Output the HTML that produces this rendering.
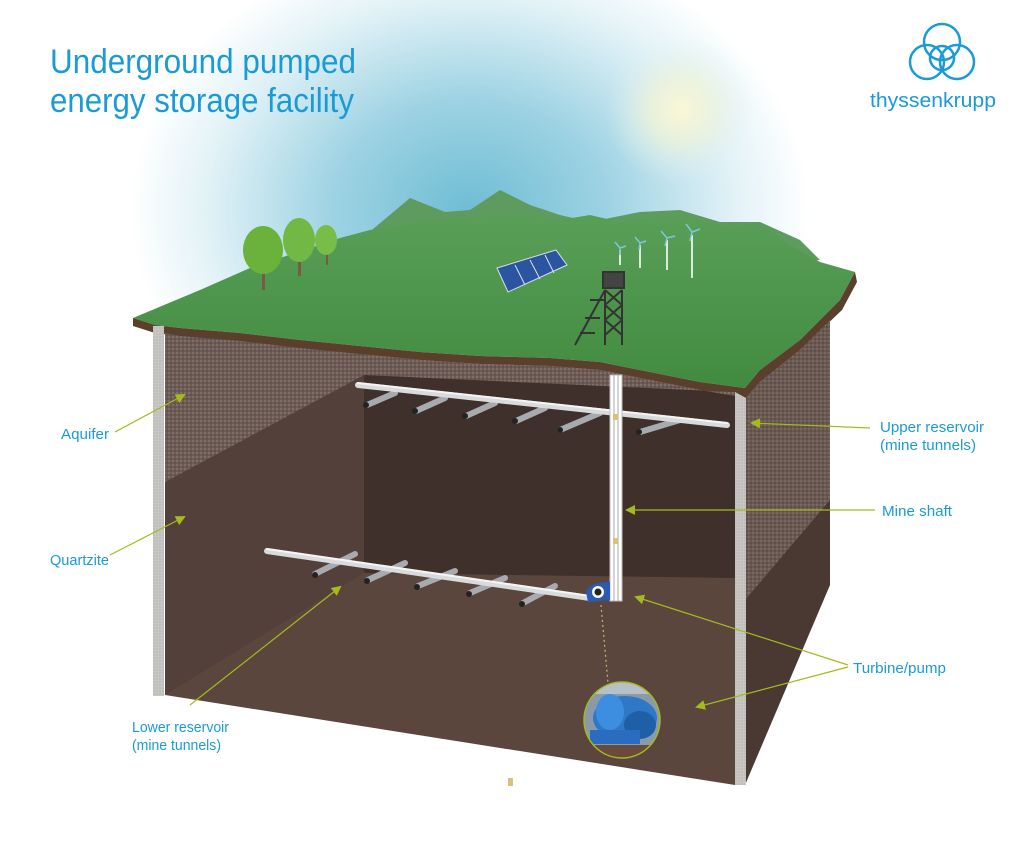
<!DOCTYPE html>
<html><head><meta charset="utf-8"><style>
html,body{margin:0;padding:0;background:#fff;width:1024px;height:847px;overflow:hidden}
svg{display:block}
text{font-family:"Liberation Sans",sans-serif}
</style></head><body>
<svg width="1024" height="847" viewBox="0 0 1024 847" xmlns="http://www.w3.org/2000/svg">
<defs>
<radialGradient id="sky" cx="470" cy="210" r="340" gradientUnits="userSpaceOnUse" gradientTransform="translate(470 210) scale(1 0.8) translate(-470 -210)">
<stop offset="0" stop-color="#6fbdd4"/><stop offset="0.4" stop-color="#9dd2e3"/><stop offset="0.78" stop-color="#e2f2f7"/><stop offset="1" stop-color="#fff"/></radialGradient>
<radialGradient id="sun" cx="680" cy="110" r="75" gradientUnits="userSpaceOnUse">
<stop offset="0" stop-color="#fbf7d6"/><stop offset="0.4" stop-color="#eef3d8" stop-opacity="0.8"/><stop offset="1" stop-color="#dff0f4" stop-opacity="0"/></radialGradient>
<linearGradient id="grass" x1="0" y1="0" x2="0" y2="1"><stop offset="0" stop-color="#5a9f58"/><stop offset="1" stop-color="#418b40"/></linearGradient>
<pattern id="dots" width="4" height="4" patternUnits="userSpaceOnUse"><rect width="4" height="4" fill="#6d5c55"/><circle cx="1" cy="1" r="0.9" fill="#8a7a73"/><circle cx="3" cy="3" r="0.9" fill="#5a4a44"/></pattern>
<pattern id="conc" width="3" height="3" patternUnits="userSpaceOnUse"><rect width="3" height="3" fill="#c9c7c4"/><circle cx="1" cy="1" r="0.6" fill="#a9a6a2"/></pattern>
<marker id="ar" markerWidth="10" markerHeight="10" refX="8" refY="5" orient="auto" markerUnits="userSpaceOnUse"><path d="M0,0 L10,5 L0,10 Z" fill="#a3bb1c"/></marker>
<clipPath id="cc"><circle cx="622" cy="720" r="38"/></clipPath>
</defs>
<rect width="1024" height="847" fill="#fff"/>
<rect x="120" y="0" width="760" height="330" fill="url(#sky)"/>
<circle cx="680" cy="110" r="75" fill="url(#sun)"/>

<path d="M360,240 L410,198 L445,212 L470,210 L500,190 L530,205 L560,215 L590,222 L640,212 L680,210 L720,222 L760,222 L800,240 L820,260 L450,280 Z" fill="#5d9b5e"/>
<path d="M133,318 L200,290 L250,268 L340,238 L370,230 L420,222 L470,218 L520,215 L560,220 L590,215 L620,222 L650,218 L680,212 L700,220 L730,228 L760,222 L790,245 L820,262 L855,272 L840,300 L800,340 L760,370 L745,388 L700,382 L650,372 L600,362 L550,358 L480,356 L420,352 L360,346 L300,340 L240,333 L180,328 L155,325 Z" fill="url(#grass)"/>
<path d="M133,318 L155,325 L180,328 L240,333 L300,340 L360,346 L420,352 L480,356 L550,358 L600,362 L650,372 L700,382 L745,388 L760,370 L800,340 L840,300 L855,272 L857,282 L842,310 L800,350 L760,382 L746,398 L700,390 L650,380 L600,370 L550,366 L480,364 L420,360 L360,354 L300,348 L240,341 L180,336 L155,333 L133,326 Z" fill="#5a3f2b"/>

<path d="M746,398 L760,382 L800,350 L830,320 L830,585 L745,785 Z" fill="#4a3832"/>
<path d="M746,398 L760,382 L800,350 L830,320 L830,500 L745,600 Z" fill="url(#dots)" opacity="0.9"/>

<path d="M165,333 L180,336 L240,341 L300,348 L360,354 L420,360 L480,364 L550,366 L600,370 L650,380 L700,390 L735,396 L735,785 L165,695 Z" fill="#5b463e"/>
<path d="M364,375 L735,392 L735,578 L364,573 Z" fill="#3f302b"/>
<path d="M165,333 L364,354 L364,573 L165,695 Z" fill="#54403a"/>
<path d="M165,333 L180,336 L240,341 L300,348 L360,354 L420,360 L480,364 L550,366 L600,370 L650,380 L700,390 L735,396 L735,392 L364,375 L165,482 Z" fill="url(#dots)"/>
<rect x="153" y="326" width="11" height="370" fill="url(#conc)"/>
<path d="M735,392 L746,398 L746,785 L735,785 Z" fill="url(#conc)"/>

<g stroke-linecap="round">
<g stroke="#a7abaf" stroke-width="6">
<line x1="395" y1="393" x2="367" y2="405"/><line x1="445" y1="398" x2="416" y2="411"/><line x1="495" y1="403" x2="466" y2="416"/><line x1="545" y1="408" x2="516" y2="421"/><line x1="600" y1="413" x2="560" y2="430"/><line x1="680" y1="420" x2="640" y2="432"/>
<line x1="355" y1="554" x2="315" y2="574"/><line x1="405" y1="563" x2="368" y2="580"/><line x1="455" y1="571" x2="418" y2="586"/><line x1="505" y1="578" x2="470" y2="593"/><line x1="555" y1="586" x2="523" y2="603"/>
</g>
<line x1="358" y1="385" x2="727" y2="425" stroke="#d8dadc" stroke-width="6"/>
<line x1="358" y1="383" x2="727" y2="423" stroke="#f4f4f4" stroke-width="2"/>
<line x1="267" y1="551" x2="590" y2="598" stroke="#d8dadc" stroke-width="6"/>
<line x1="267" y1="549" x2="590" y2="596" stroke="#f4f4f4" stroke-width="2"/>
</g>
<g fill="#222"><circle cx="366" cy="405" r="3"/><circle cx="415" cy="411" r="3"/><circle cx="465" cy="416" r="3"/><circle cx="515" cy="421" r="3"/><circle cx="560" cy="430" r="3"/><circle cx="639" cy="432" r="3"/><circle cx="315" cy="575" r="3"/><circle cx="367" cy="581" r="3"/><circle cx="417" cy="587" r="3"/><circle cx="469" cy="594" r="3"/><circle cx="522" cy="604" r="3"/></g>

<rect x="610" y="375" width="12" height="226" fill="#fff" stroke="#bbb" stroke-width="1"/>
<line x1="614" y1="375" x2="614" y2="601" stroke="#aaa"/><line x1="618" y1="375" x2="618" y2="601" stroke="#aaa"/>
<rect x="613" y="414" width="5" height="6" fill="#d8c27a"/><rect x="613" y="538" width="5" height="6" fill="#d8c27a"/>
<path d="M586,592 Q590,582 610,582 L610,600 L588,602 Z" fill="#2a5bb0"/>
<circle cx="598" cy="592" r="6" fill="#fff"/><circle cx="598" cy="592" r="3.5" fill="#222"/>
<line x1="601" y1="605" x2="608" y2="683" stroke="#c9b07a" stroke-width="1.2" stroke-dasharray="2,3"/>

<g clip-path="url(#cc)">
<rect x="580" y="680" width="90" height="80" fill="#8a9aa8"/>
<rect x="580" y="680" width="90" height="14" fill="#b5c0c8"/>
<ellipse cx="625" cy="718" rx="32" ry="22" fill="#2f78c8"/>
<ellipse cx="610" cy="712" rx="14" ry="18" fill="#3d8ee0"/>
<ellipse cx="640" cy="725" rx="16" ry="14" fill="#1f5fa8"/>
<rect x="590" y="730" width="50" height="14" fill="#2a6cc0"/>
<rect x="595" y="745" width="60" height="15" fill="#6b4a3e"/>
</g>
<circle cx="622" cy="720" r="38" fill="none" stroke="#a3bb1c" stroke-width="1.5"/>

<g stroke="#333" stroke-width="2" fill="none">
<path d="M605,290 L605,345 M622,290 L622,345 M605,290 L622,305 M622,290 L605,305 M605,305 L622,320 M622,305 L605,320 M605,320 L622,335 M622,320 L605,335 M605,290 L575,345 M605,300 L590,300 M600,318 L585,318 M595,333 L580,333"/>
<rect x="603" y="272" width="21" height="16" fill="#444"/>
</g>
<path d="M497,268 L556,250 L567,265 L508,292 Z" fill="#2b55a0" stroke="#dde" stroke-width="1"/>
<path d="M515,265 L525,285 M530,260 L540,279 M545,255 L554,273" stroke="#dde" stroke-width="1"/>
<g stroke="#fff" stroke-width="1.6">
<line x1="620" y1="250" x2="620" y2="265"/><line x1="640" y1="245" x2="640" y2="268"/><line x1="667" y1="240" x2="667" y2="270"/><line x1="692" y1="235" x2="692" y2="278"/>
</g>
<g stroke="#7fc6d8" stroke-width="1.5">
<path d="M620,248 l-5,-6 M620,248 l6,-2 M620,248 l0,7"/><path d="M640,243 l-5,-6 M640,243 l6,-2 M640,243 l-1,7"/><path d="M667,238 l-6,-7 M667,238 l8,-2 M667,238 l-2,8"/><path d="M692,232 l-6,-8 M692,232 l8,-3 M692,232 l-2,9"/>
</g>
<g>
<rect x="262" y="258" width="3" height="32" fill="#7a5a40"/><rect x="298" y="250" width="3" height="26" fill="#7a5a40"/><rect x="326" y="245" width="2" height="20" fill="#7a5a40"/>
<ellipse cx="263" cy="250" rx="20" ry="24" fill="#6ab23c"/><ellipse cx="299" cy="240" rx="16" ry="22" fill="#72b844"/><ellipse cx="326" cy="240" rx="11" ry="15" fill="#78bd48"/>
</g>

<g stroke="#a3bb1c" stroke-width="1.2" fill="none" marker-end="url(#ar)">
<line x1="115" y1="432" x2="184" y2="395"/>
<line x1="110" y1="555" x2="184" y2="517"/>
<line x1="190" y1="705" x2="340" y2="587"/>
<line x1="870" y1="428" x2="752" y2="423"/>
<line x1="875" y1="510" x2="627" y2="510"/>
<line x1="848" y1="665" x2="636" y2="597"/>
<line x1="848" y1="667" x2="697" y2="707"/>
</g>

<g fill="#1a9bd7" font-size="15">
<text x="61" y="439" textLength="48" lengthAdjust="spacingAndGlyphs">Aquifer</text>
<text x="50" y="565" textLength="59" lengthAdjust="spacingAndGlyphs">Quartzite</text>
<text x="132" y="732" textLength="97" lengthAdjust="spacingAndGlyphs">Lower reservoir</text>
<text x="132" y="750" textLength="89" lengthAdjust="spacingAndGlyphs">(mine tunnels)</text>
<text x="880" y="432" textLength="104" lengthAdjust="spacingAndGlyphs">Upper reservoir</text>
<text x="880" y="450" textLength="96" lengthAdjust="spacingAndGlyphs">(mine tunnels)</text>
<text x="882" y="516" textLength="70" lengthAdjust="spacingAndGlyphs">Mine shaft</text>
<text x="853" y="673" textLength="93" lengthAdjust="spacingAndGlyphs">Turbine/pump</text>
</g>
<g fill="#1a9bd7" font-size="34">
<text x="50" y="73" textLength="306" lengthAdjust="spacingAndGlyphs">Underground pumped</text>
<text x="50" y="112" textLength="304" lengthAdjust="spacingAndGlyphs">energy storage facility</text>
</g>
<g fill="none" stroke="#1a9bd7" stroke-width="2.5">
<circle cx="942" cy="42" r="18"/><circle cx="927" cy="62" r="17"/><circle cx="957" cy="62" r="17"/>
<circle cx="942" cy="58" r="12"/>
</g>
<text x="870" y="107" fill="#1a9bd7" font-size="20" textLength="126" lengthAdjust="spacingAndGlyphs">thyssenkrupp</text>
<rect x="508" y="778" width="5" height="8" fill="#d8c27a"/>
</svg>
</body></html>
